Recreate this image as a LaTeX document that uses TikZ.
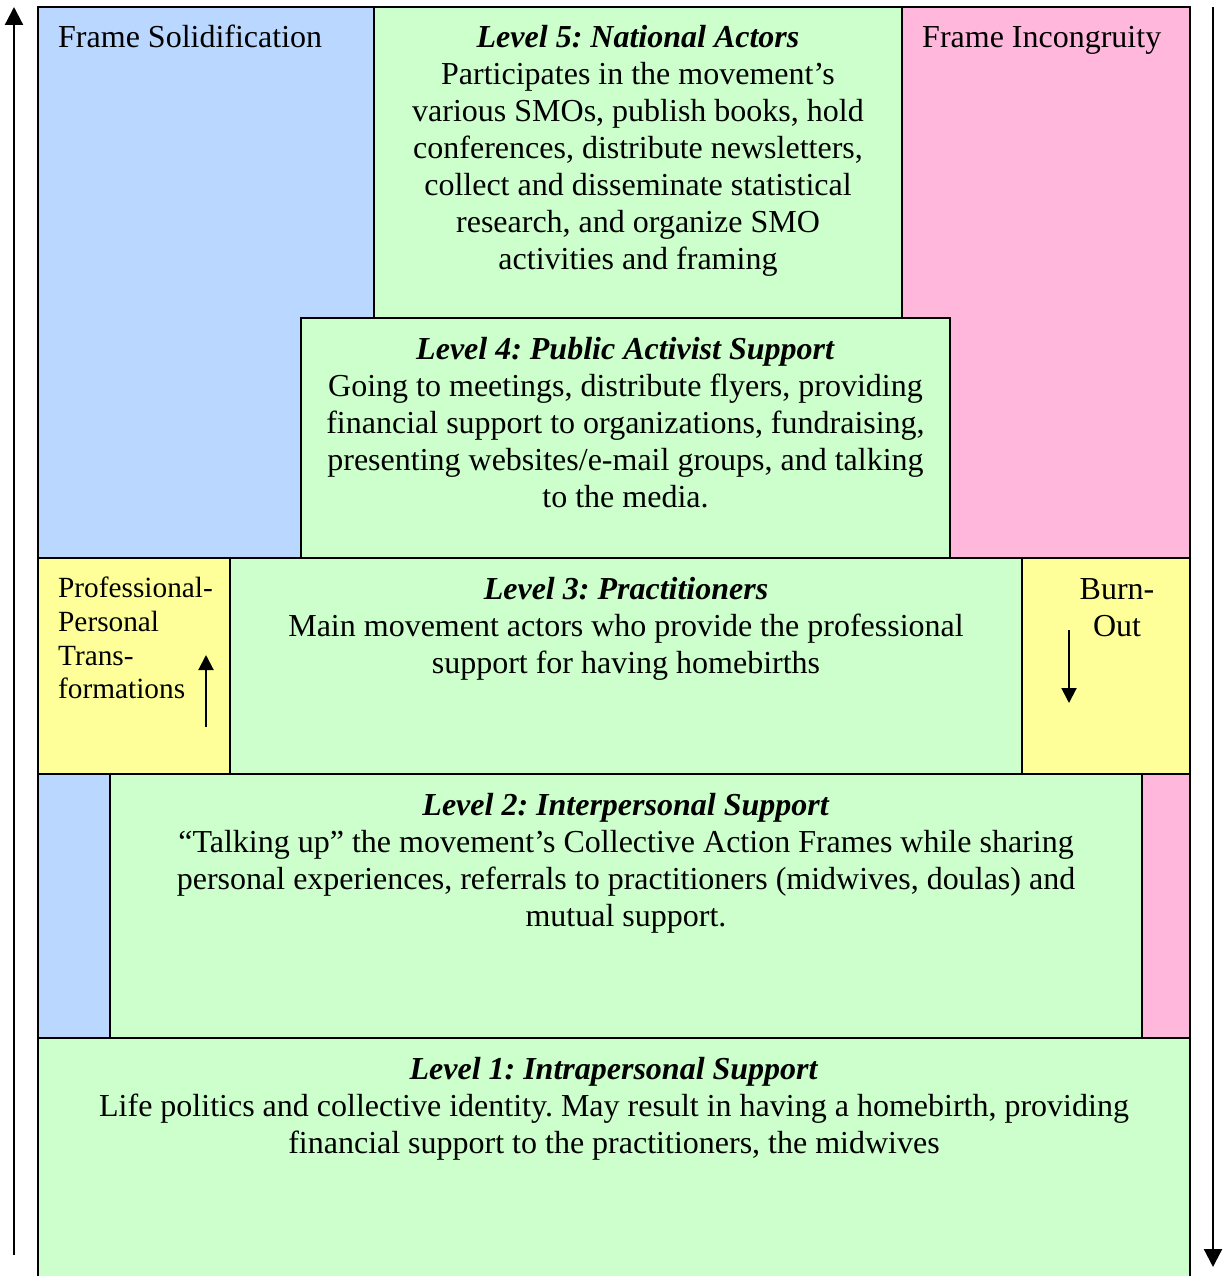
\documentclass[tikz,border=0pt]{standalone}
\usepackage{fontspec}
\setmainfont{Liberation Serif}
\usetikzlibrary{arrows.meta,positioning}

\definecolor{solidblue}{RGB}{186,216,255}
\definecolor{incpink}{RGB}{255,184,220}
\definecolor{lvlgreen}{RGB}{204,255,204}
\definecolor{turnyellow}{RGB}{255,255,153}

\tikzset{
  lvlbox/.style={draw=black, fill=lvlgreen, line width=1.5pt},
  sidebox/.style={draw=black, fill=turnyellow, line width=1.5pt},
  lvltext/.style={inner sep=0pt, align=center, anchor=north, font=\fontsize{32}{37}\selectfont},
  sidetext/.style={inner sep=0pt, align=left, anchor=north west},
  bigarrow/.style={line width=2.2pt, -{Triangle[width=18pt,length=18pt]}},
  smallarrow/.style={line width=2pt, -{Triangle[width=15pt,length=15pt]}}
}
\newcommand{\lvltitle}[1]{\strut\textbf{\textit{#1}}}
\frenchspacing

\begin{document}
\begin{tikzpicture}[x=1pt,y=-1pt]
  \useasboundingbox (0,0) rectangle (1225,1276);
  \clip (0,0) rectangle (1225,1276);

  % frame zones
  \fill[solidblue] (38,7) rectangle (374,558);
  \fill[solidblue] (38,774) rectangle (110,1038);
  \fill[incpink] (902,7) rectangle (1190,558);
  \fill[incpink] (1142,774) rectangle (1190,1038);

  % levels
  \draw[lvlbox] (374,7) rectangle (902,318);
  \draw[lvlbox] (301,318) rectangle (950,558);
  \draw[lvlbox] (230,558) rectangle (1022,774);
  \draw[sidebox] (38,558) rectangle (230,774);
  \draw[sidebox] (1022,558) rectangle (1190,774);
  \draw[lvlbox] (110,774) rectangle (1142,1038);
  \draw[lvlbox] (38,1038) rectangle (1190,1300);

  % outer frame
  \draw[line width=2pt] (38,1290) -- (38,7) -- (1190,7) -- (1190,1290);

  \node[lvltext] (lvl5) at (638,21) {\lvltitle{Level 5: National Actors}\\
    Participates in the movement’s\\
    various SMOs, publish books, hold\\
    conferences, distribute newsletters,\\
    collect and disseminate statistical\\
    research, and organize SMO\\
    activities and framing};
  \node[lvltext] (lvl4) at (625.5,333) {\lvltitle{Level 4: Public Activist Support}\\
    Going to meetings, distribute flyers, providing\\
    financial support to organizations, fundraising,\\
    presenting websites/e-mail groups, and talking\\
    to the media.};
  \node[lvltext] (lvl3) at (626,573) {\lvltitle{Level 3: Practitioners}\\
    Main movement actors who provide the professional\\
    support for having homebirths};
  \node[lvltext] (lvl2) at (626,789) {\lvltitle{Level 2: Interpersonal Support}\\
    “Talking up” the movement’s Collective Action Frames while sharing\\
    personal experiences, referrals to practitioners (midwives, doulas) and\\
    mutual support.};
  \node[lvltext] (lvl1) at (614,1053) {\lvltitle{Level 1: Intrapersonal Support}\\
    Life politics and collective identity. May result in having a homebirth, providing\\
    financial support to the practitioners, the midwives};

  \node[sidetext, font=\fontsize{32}{37}\selectfont] (solid) at (58,21) {\strut Frame Solidification};
  \node[sidetext, font=\fontsize{32}{37}\selectfont] (incong) at (922,21) {\strut Frame Incongruity};
  \node[sidetext, font=\fontsize{29.3}{33.7}\selectfont] (transf) at (58,574) {\strut Professional-\\
    Personal\\ Trans-\\ formations};
  \node[lvltext] (burnout) at (1117,573) {\strut Burn-\\ Out};

  % arrows
  \coordinate (upA) at (14,1255);
  \coordinate (upB) at (14,7);
  \coordinate (downA) at (1213,7);
  \coordinate (downB) at (1213,1267);
  \coordinate (transA) at (206,727);
  \coordinate (transB) at (206,655);
  \coordinate (burnA) at (1069,630);
  \coordinate (burnB) at (1069,703);
  \draw[bigarrow] (upA) -- (upB);
  \draw[bigarrow] (downA) -- (downB);
  \draw[smallarrow] (transA) -- (transB);
  \draw[smallarrow] (burnA) -- (burnB);
\end{tikzpicture}
\end{document}
